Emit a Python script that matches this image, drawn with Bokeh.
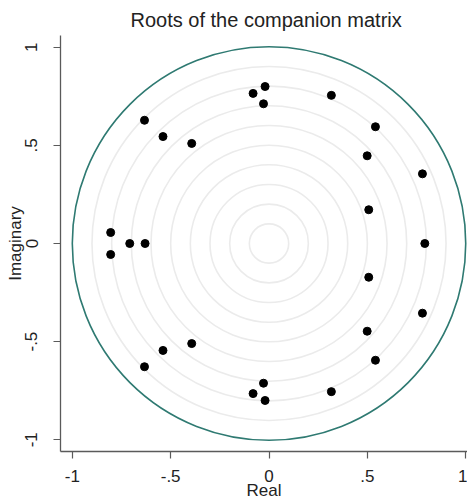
from bokeh.plotting import figure
from bokeh.models import Range1d, FixedTicker, Title
from bokeh.embed import file_html
from bokeh.resources import INLINE

# ---- data: eigenvalues of the companion matrix (real, imaginary) ----
real_part = [-0.020, -0.020, -0.081, -0.081, -0.028, -0.028, 0.317, 0.317,
             -0.633, -0.633, -0.539, -0.539, -0.393, -0.393, 0.541, 0.541,
             0.499, 0.499, 0.780, 0.780, 0.507, 0.507, 0.792,
             -0.805, -0.805, -0.708, -0.630]
imag_part = [0.800, -0.800, 0.765, -0.765, 0.712, -0.712, 0.755, -0.755,
             0.628, -0.628, 0.545, -0.545, 0.510, -0.510, 0.595, -0.595,
             0.447, -0.447, 0.355, -0.355, 0.172, -0.172, 0.0,
             0.056, -0.056, 0.0, 0.0]
tick_values = [-1, -0.5, 0, 0.5, 1]
tick_labels = ["-1", "-.5", "0", ".5", "1"]
grid_radii = [0.1, 0.2, 0.3, 0.4, 0.5, 0.6, 0.7, 0.8, 0.9]
unit_radius = [1.0]

FONT = "Liberation Sans"
AXC = "#5a5a5a"

p = figure(width=467, height=502, output_backend="svg", toolbar_location=None,
           x_range=Range1d(-1.06, 1.009), y_range=Range1d(-1.06, 1.06),
           min_border_left=60, min_border_right=0, min_border_top=35,
           min_border_bottom=50)

p.title = Title(text="Roots of the companion matrix", align="left",
                text_font=FONT, text_font_size="20px", text_font_style="normal",
                text_color="#222222", offset=70)

p.grid.visible = False
p.outline_line_color = None
p.background_fill_color = "white"
p.border_fill_color = "white"

# concentric reference circles
p.circle(x=[0] * len(grid_radii), y=[0] * len(grid_radii), radius=grid_radii,
         fill_color=None, line_color="#ebebeb", line_width=1.6)
# unit circle
p.circle(x=[0], y=[0], radius=unit_radius, fill_color=None,
         line_color="#2f7a72", line_width=1.6)

# roots
p.scatter(real_part, imag_part, size=8, fill_color="black", line_color="black")

overrides = {v: l for v, l in zip(tick_values, tick_labels)}
for ax in (p.xaxis[0], p.yaxis[0]):
    ax.ticker = FixedTicker(ticks=tick_values)
    ax.major_label_overrides = overrides
    ax.axis_line_color = AXC
    ax.axis_line_width = 1.3
    ax.major_tick_line_color = AXC
    ax.major_tick_line_width = 1.2
    ax.major_tick_out = 7
    ax.major_tick_in = 0
    ax.minor_tick_line_color = None
    ax.major_label_text_font = FONT
    ax.major_label_text_font_size = "17px"
    ax.major_label_text_color = "#222222"
    ax.axis_label_text_font = FONT
    ax.axis_label_text_font_size = "17px"
    ax.axis_label_text_font_style = "normal"
    ax.axis_label_text_color = "#222222"

p.xaxis.axis_label = "Real"
p.xaxis.major_label_standoff = 11
p.xaxis.axis_label_standoff = -4
p.yaxis.axis_label = "Imaginary"
p.yaxis.major_label_orientation = "vertical"
p.yaxis.major_label_standoff = 16
p.yaxis.axis_label_standoff = -2

open("out.html", "w").write(file_html(p, INLINE))
